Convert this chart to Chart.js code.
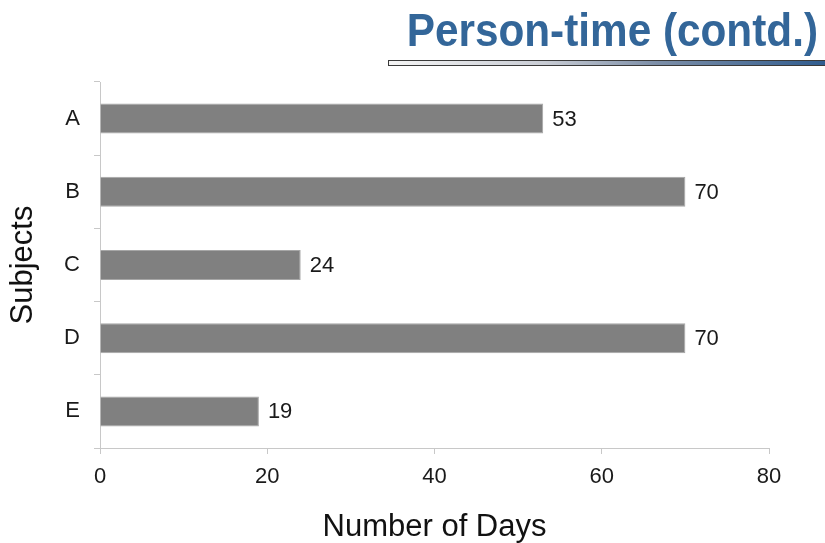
<!DOCTYPE html>
<html>
<head>
<meta charset="utf-8">
<script src="https://cdn.jsdelivr.net/npm/chart.js@4"></script>
<style>
  html, body { margin: 0; padding: 0; background: #fff; }
  #wrap { position: relative; width: 825px; height: 543px; overflow: hidden; }
  #chart { position: absolute; left: 0; top: 0; }
  #title {
    position: absolute; right: 7px; top: 4px;
    font-family: "Liberation Sans Narrow", "Liberation Sans", Arial, sans-serif;
    font-weight: bold; font-size: 47px; line-height: 52px;
    color: #336699; white-space: nowrap;
    transform: scaleX(0.9); transform-origin: right center;
  }
  #rule {
    position: absolute; left: 388px; top: 60px; width: 445px; height: 4px;
    border: 1px solid #3a3a3a;
    background: linear-gradient(to right, #f4f4f4 0%, #c8ccd4 35%, #7d8fa8 60%, #2c5a8e 100%);
  }
</style>
</head>
<body>
<div id="wrap">
  <canvas id="chart" width="825" height="543"></canvas>
  <div id="title">Person-time (contd.)</div>
  <div id="rule"></div>
</div>
<script>
const subjects = ['A', 'B', 'C', 'D', 'E'];
const days = [53, 70, 24, 70, 19];
const xTicks = [0, 20, 40, 60, 80];

const tickFont = { family: '"Liberation Sans", Arial, sans-serif', size: 22 };
const titleFont = { family: '"Liberation Sans", Arial, sans-serif', size: 31, lineHeight: 1 };

// valeurs au bout des barres
const barLabels = {
  id: 'barLabels',
  afterDatasetsDraw(chart) {
    const ctx = chart.ctx;
    const meta = chart.getDatasetMeta(0);
    ctx.save();
    ctx.font = '22px "Liberation Sans", Arial, sans-serif';
    ctx.fillStyle = '#1a1a1a';
    ctx.textBaseline = 'middle';
    ctx.textAlign = 'left';
    meta.data.forEach((bar, i) => {
      ctx.fillText(String(days[i]), bar.x + 9, bar.y + 1);
    });
    ctx.restore();
  }
};

new Chart(document.getElementById('chart'), {
  type: 'bar',
  data: {
    labels: subjects,
    datasets: [{
      data: days,
      backgroundColor: '#808080',
      borderColor: '#a6a6a6',
      borderWidth: 1,
      barPercentage: 0.41,
      categoryPercentage: 1
    }]
  },
  options: {
    indexAxis: 'y',
    responsive: false,
    animation: false,
    layout: { padding: { top: 82, right: 56, left: 0, bottom: 0 } },
    plugins: { legend: { display: false }, tooltip: { enabled: false } },
    scales: {
      x: {
        min: 0,
        max: 80,
        afterFit: s => { s.height = 95; },
        afterBuildTicks: s => { s.ticks = xTicks.map(v => ({ value: v })); },
        grid: { drawOnChartArea: false, tickLength: 6, color: '#c8c8c8' },
        border: { color: '#c8c8c8', width: 1 },
        ticks: { font: tickFont, color: '#1a1a1a', padding: 10, maxRotation: 0 },
        title: { display: true, text: 'Number of Days', font: titleFont, color: '#111', padding: { top: 0, bottom: 0 } }
      },
      y: {
        afterFit: s => { s.width = 100; },
        grid: { drawOnChartArea: false, tickLength: 6, color: '#c8c8c8', offset: true },
        border: { color: '#c8c8c8', width: 1 },
        ticks: { font: tickFont, color: '#1a1a1a', padding: 14 },
        title: { display: true, text: 'Subjects', font: titleFont, color: '#111', padding: { top: 8, bottom: 0 } }
      }
    }
  },
  plugins: [barLabels]
});
</script>
</body>
</html>
